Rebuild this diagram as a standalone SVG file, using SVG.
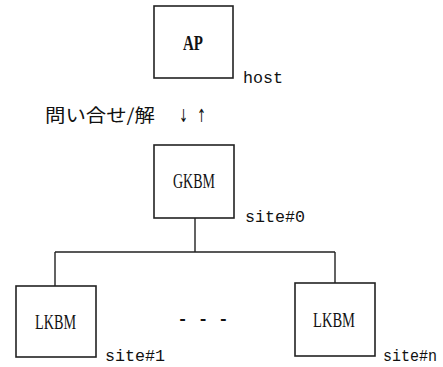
<svg xmlns="http://www.w3.org/2000/svg" width="443" height="367" viewBox="0 0 443 367">
<style>
.box{fill:#fff;stroke:#222;stroke-width:1.6}
.lbl{font-family:"Liberation Serif","Noto Sans CJK JP",serif;font-size:22px;fill:#111}
.site{font-family:"Liberation Mono","Noto Sans CJK JP",monospace;font-size:17px;fill:#111}
.jp{font-family:"Noto Sans CJK JP",sans-serif;font-size:18px;fill:#111}
.arr{font-family:"DejaVu Sans",sans-serif;font-size:18px;fill:#111}
.con{fill:none;stroke:#222;stroke-width:1.4}
</style>
<rect width="443" height="367" fill="#fff"/>
<g id="connectors">
<path class="con" d="M195 218 V252 M55 252 H335 M55 252 V286 M335 252 V283"/>
</g>
<g id="ap">
<rect class="box" x="154" y="6" width="79" height="72"/>
<text class="lbl" x="183" y="50" font-weight="bold" textLength="20" lengthAdjust="spacingAndGlyphs">AP</text>
<text class="site" x="243" y="83" textLength="40" lengthAdjust="spacingAndGlyphs">host</text>
</g>
<g id="query">
<text class="jp" x="45" y="122" textLength="110" lengthAdjust="spacingAndGlyphs">問い合せ/解</text>
<text class="arr" x="179" y="122" textLength="9" lengthAdjust="spacingAndGlyphs">↓</text>
<text class="arr" x="197" y="122" textLength="9" lengthAdjust="spacingAndGlyphs">↑</text>
</g>
<g id="gkbm">
<rect class="box" x="154" y="145" width="80" height="73"/>
<text class="lbl" x="173" y="188" textLength="42" lengthAdjust="spacingAndGlyphs">GKBM</text>
<text class="site" x="245" y="222" textLength="60" lengthAdjust="spacingAndGlyphs">site#0</text>
</g>
<g id="lkbm1">
<rect class="box" x="16" y="286" width="80" height="71"/>
<text class="lbl" x="35" y="329" textLength="41" lengthAdjust="spacingAndGlyphs">LKBM</text>
<text class="site" x="105" y="361" textLength="60" lengthAdjust="spacingAndGlyphs">site#1</text>
</g>
<g id="dots">
<text class="site" x="203" y="324" text-anchor="middle" font-weight="bold">- - -</text>
</g>
<g id="lkbmn">
<rect class="box" x="295" y="283" width="80" height="73"/>
<text class="lbl" x="313" y="327" textLength="42" lengthAdjust="spacingAndGlyphs">LKBM</text>
<text class="site" x="383" y="361" font-size="16" textLength="54" lengthAdjust="spacingAndGlyphs">site#n</text>
</g>
</svg>
